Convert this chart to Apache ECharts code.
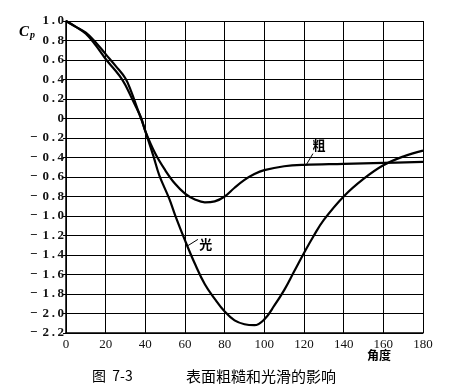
<!DOCTYPE html>
<html>
<head>
<meta charset="utf-8">
<script src="https://cdn.jsdelivr.net/npm/echarts@6/dist/echarts.min.js"></script>
<style>html,body{margin:0;padding:0;background:#fff}#c{width:474px;height:389px}</style>
</head>
<body>
<div id="c"></div>
<script>
// Angle (degrees) and pressure coefficient values
const xTicks = [0, 20, 40, 60, 80, 100, 120, 140, 160, 180];
const smoothAngle = [0, 5, 10, 15, 20, 25, 30, 33, 36, 38, 40, 44, 47, 52, 55, 60, 65, 70, 75, 80, 85, 90, 95, 100, 105, 110, 115, 120, 125, 130, 140, 150, 160, 170, 180];
const smoothCp    = [1.0, 0.94, 0.88, 0.78, 0.66, 0.54, 0.41, 0.27, 0.10, -0.01, -0.13, -0.38, -0.58, -0.82, -0.99, -1.25, -1.49, -1.70, -1.85, -1.98, -2.07, -2.11, -2.12, -2.06, -1.92, -1.76, -1.57, -1.38, -1.20, -1.04, -0.80, -0.62, -0.48, -0.39, -0.33];
const roughAngle  = [0, 5, 10, 15, 20, 25, 28, 30, 35, 38, 40, 45, 50, 55, 60, 65, 70, 75, 80, 85, 90, 95, 100, 110, 120, 140, 160, 180];
const roughCp     = [1.0, 0.94, 0.87, 0.75, 0.61, 0.49, 0.41, 0.34, 0.13, 0.0, -0.13, -0.36, -0.53, -0.67, -0.77, -0.83, -0.86, -0.85, -0.80, -0.71, -0.63, -0.57, -0.53, -0.49, -0.475, -0.465, -0.455, -0.445];
const seriesNames = ['光', '粗'];

const pair = (xs, ys) => xs.map((x, i) => [x, ys[i]]);
const TS = '\u2009';
function fmtY(v) {
  const r = Math.round(v * 10) / 10;
  if (r === 0) return '0';
  const s = Math.abs(r).toFixed(1).split('').join(TS);
  return r < 0 ? '\u2212' + TS + TS + s : s;
}

const chart = echarts.init(document.getElementById('c'), null, {renderer: 'canvas'});
const serifFont = '"Liberation Serif", "DejaVu Serif", serif';
const cjkFont = '"Noto Sans CJK SC", sans-serif';

const tagPoint = (text, coord) => ({
  symbol: 'circle', symbolSize: 1, itemStyle: {color: 'rgba(0,0,0,0)'},
  label: {show: true, position: 'inside', formatter: text, color: '#000', fontFamily: cjkFont, fontSize: 13, fontWeight: 'bold'},
  data: [{coord: coord}]
});

chart.setOption({
  animation: false,
  backgroundColor: '#fff',
  grid: {left: 66, right: 51, top: 21, bottom: 56, containLabel: false},
  xAxis: {
    type: 'value', min: 0, max: 180, interval: 20,
    axisLine: {show: true, onZero: false, lineStyle: {color: '#000', width: 1.5}},
    axisTick: {show: false},
    splitLine: {show: true, lineStyle: {color: '#000', width: 1}},
    axisLabel: {color: '#111', fontFamily: serifFont, fontSize: 13, margin: 5,
      formatter: v => xTicks.includes(v) ? String(v) : ''}
  },
  yAxis: {
    type: 'value', min: -2.2, max: 1.0, interval: 0.2,
    axisLine: {show: true, onZero: false, lineStyle: {color: '#000', width: 1.5}},
    axisTick: {show: true, length: 3, lineStyle: {color: '#000'}},
    splitLine: {show: true, lineStyle: {color: '#000', width: 1}},
    axisLabel: {color: '#111', fontFamily: serifFont, fontSize: 13, fontWeight: 'bold', margin: 2, formatter: fmtY}
  },
  series: [
    {
      name: seriesNames[0], type: 'line', data: pair(smoothAngle, smoothCp),
      smooth: 0.4, symbol: 'none', lineStyle: {color: '#000', width: 2.2},
      markLine: {silent: true, symbol: 'none', lineStyle: {color: '#000', width: 1, type: 'solid'}, label: {show: false},
        data: [[{coord: [61, -1.31]}, {coord: [66.5, -1.24]}]]},
      markPoint: tagPoint('光', [70.5, -1.29])
    },
    {
      name: seriesNames[1], type: 'line', data: pair(roughAngle, roughCp),
      smooth: 0.4, symbol: 'none', lineStyle: {color: '#000', width: 2.2},
      markLine: {silent: true, symbol: 'none', lineStyle: {color: '#000', width: 1, type: 'solid'}, label: {show: false},
        data: [[{coord: [121, -0.48]}, {coord: [124.5, -0.36]}]]},
      markPoint: tagPoint('粗', [127.5, -0.27])
    }
  ],
  graphic: [
    {type: 'text', left: 19, top: 25, style: {
      text: '{c|C}{p|p}',
      rich: {
        c: {fontFamily: serifFont, fontStyle: 'italic', fontWeight: 'bold', fontSize: 15, fill: '#000'},
        p: {fontFamily: serifFont, fontStyle: 'italic', fontWeight: 'bold', fontSize: 10, fill: '#000', verticalAlign: 'bottom', padding: [6, 0, 0, 1]}
      }}},
    {type: 'text', left: 367, top: 349, style: {text: '角度', font: 'bold 12px "Noto Sans CJK SC"', fill: '#000'}},
    {type: 'text', left: 92, top: 369, style: {text: '图  7-3', font: '14px "Noto Sans CJK SC"', fill: '#000'}},
    {type: 'text', left: 186, top: 369, style: {text: '表面粗糙和光滑的影响', font: '15px "Noto Sans CJK SC"', fill: '#000'}}
  ]
});
</script>
</body>
</html>
